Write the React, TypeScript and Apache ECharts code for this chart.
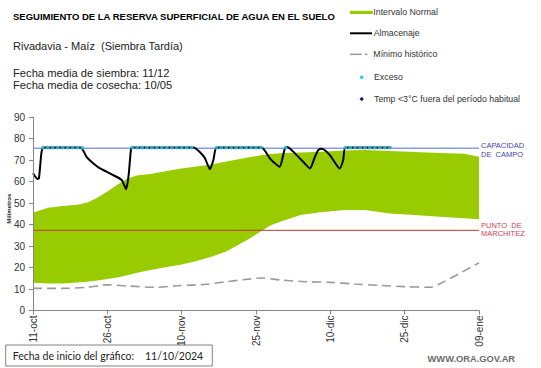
import React, { useEffect, useRef } from "react";
import * as echarts from "echarts";

// X axis: days since 11-oct-2024
const tickLabels = ["11-oct", "26-oct", "10-nov", "25-nov", "10-dic", "25-dic", "09-ene"];

// Normal interval (band)
const bandDays = [0, 3, 6, 9, 11, 13, 15, 17, 19, 21, 24, 27, 30, 33, 36, 39, 42, 44, 46, 48, 50, 54, 58, 63, 67, 72, 77, 82, 87, 90];
const bandUpper = [45.5, 47.8, 48.6, 49.2, 50.2, 52.5, 55.3, 58.5, 61.3, 62.8, 63.6, 64.9, 66.0, 67.0, 67.9, 69.3, 70.6, 71.4, 72.2, 72.8, 73.1, 73.5, 73.8, 74.4, 74.6, 74.2, 73.7, 73.3, 72.9, 71.5];
const bandLower = [12.9, 12.6, 12.6, 13.0, 13.4, 14.0, 14.6, 15.4, 16.4, 17.6, 19.0, 20.2, 21.4, 23.0, 25.0, 27.5, 31.3, 33.8, 36.9, 39.6, 41.4, 44.4, 45.7, 46.7, 46.7, 45.1, 44.4, 43.6, 42.9, 42.4];

// Historical minimum
const minDays = [0, 6, 11, 15, 19, 25, 29, 35, 39, 44, 46, 50, 55, 60, 65, 70, 75, 80, 82, 90];
const minValues = [10.3, 10.3, 10.8, 11.9, 11.4, 10.8, 11.5, 12.2, 13.4, 14.7, 15.1, 14.2, 13.4, 13.1, 12.3, 11.7, 11.1, 10.8, 12.3, 22.2];

// Storage (Almacenaje)
const storageDays = [0, 0.9, 1.2, 1.7, 2.1, 9.6, 10.8, 11.8, 13.2, 15.9, 17.9, 18.8, 19.3, 19.8, 20.1, 32.4, 33.7, 34.7, 35.7, 36.4, 37.1, 46.1, 47.8, 48.8, 49.8, 50.8, 51.3, 52.5, 54.5, 55.9, 56.9, 57.6, 58.3, 59.9, 61.9, 62.6, 63.1, 72.3];
const storageValues = [63.8, 61.2, 61.5, 73.3, 75.8, 75.8, 71.5, 69.2, 66.6, 63.3, 60.7, 56.4, 63.0, 75.5, 75.8, 75.8, 73.6, 70.8, 65.7, 70.0, 75.8, 75.8, 70.8, 68.5, 66.9, 75.2, 76.0, 73.9, 69.2, 66.1, 71.5, 74.7, 75.2, 72.3, 66.1, 70.0, 75.8, 75.8];

// Excess (Exceso)
const excessDays = [2, 3, 4, 5, 6, 7, 8, 9, 10, 20, 21, 22, 23, 24, 25, 26, 27, 28, 29, 30, 31, 32, 37, 38, 39, 40, 41, 42, 43, 44, 45, 46, 51, 63, 64, 65, 66, 67, 68, 69, 70, 71, 72];
const excessValue = 75.8;

// Reference levels
const fieldCapacity = 75.5;
const wiltingPoint = 37.3;

const FONT = '"Liberation Sans", Arial, sans-serif';

export default function App() {
  const ref = useRef<HTMLDivElement>(null);
  useEffect(() => {
    if (!ref.current) return;
    const chart = echarts.init(ref.current, null, { renderer: "svg" });
    const textEl = (text: string, x: number, y: number, size: number, color: string, weight = "normal", extra: any = {}) => ({
      type: "text",
      x,
      y,
      silent: true,
      style: {
        text,
        fill: color,
        fontSize: size,
        fontFamily: FONT,
        fontWeight: weight,
        textVerticalAlign: "middle",
        textAlign: "left",
        ...extra,
      },
    });
    chart.setOption({
      animation: false,
      grid: { left: 33, right: 62, top: 117, bottom: 57.5, containLabel: false },
      xAxis: {
        type: "value",
        min: 0,
        max: 90,
        interval: 15,
        z: 10,
        splitLine: { show: false },
        axisLine: { lineStyle: { color: "#868686", width: 1 } },
        axisTick: { show: true, length: 4, lineStyle: { color: "#868686" } },
        axisLabel: {
          formatter: (v: number) => tickLabels[Math.round(v / 15)] ?? "",
          rotate: 90,
          fontSize: 10,
          fontFamily: FONT,
          color: "#333",
          margin: 5,
          showMinLabel: true,
          showMaxLabel: true,
        },
      },
      yAxis: {
        type: "value",
        min: 0,
        max: 90,
        interval: 10,
        z: 10,
        splitLine: { show: false },
        axisLine: { show: true, lineStyle: { color: "#868686", width: 1 } },
        axisTick: { show: true, length: 4, lineStyle: { color: "#868686" } },
        axisLabel: { fontSize: 10, fontFamily: FONT, color: "#333", margin: 8 },
      },
      series: [
        {
          name: "Intervalo Normal",
          type: "line",
          data: bandDays.map((d, i) => [d, bandUpper[i]]),
          symbol: "none",
          lineStyle: { width: 0, opacity: 0 },
          areaStyle: { color: "#99cc00", opacity: 1 },
          silent: true,
          z: 1,
        },
        {
          name: "base",
          type: "line",
          data: bandDays.map((d, i) => [d, bandLower[i]]),
          symbol: "none",
          lineStyle: { width: 0, opacity: 0 },
          areaStyle: { color: "#ffffff", opacity: 1 },
          silent: true,
          z: 1.5,
        },
        {
          name: "Capacidad",
          type: "line",
          data: [[0, fieldCapacity], [90, fieldCapacity]],
          symbol: "none",
          lineStyle: { color: "#4a6fd0", width: 1 },
          silent: true,
          z: 2,
        },
        {
          name: "Marchitez",
          type: "line",
          data: [[0, wiltingPoint], [90, wiltingPoint]],
          symbol: "none",
          lineStyle: { color: "#c0392b", width: 1 },
          silent: true,
          z: 2,
        },
        {
          name: "Mínimo histórico",
          type: "line",
          data: minDays.map((d, i) => [d, minValues[i]]),
          symbol: "none",
          smooth: 0.3,
          lineStyle: { color: "#9a9a9a", width: 1.6, type: [9, 5] },
          silent: true,
          z: 3,
        },
        {
          name: "Almacenaje",
          type: "line",
          data: storageDays.map((d, i) => [d, storageValues[i]]),
          symbol: "none",
          smooth: 0.2,
          lineStyle: { color: "#000", width: 2 },
          silent: true,
          z: 4,
        },
        {
          name: "Exceso",
          type: "scatter",
          data: excessDays.map((d) => [d, excessValue]),
          symbol: "circle",
          symbolSize: 3.8,
          itemStyle: { color: "#33c8ea" },
          silent: true,
          z: 5,
        },
      ],
      graphic: [
        textEl("SEGUIMIENTO DE LA RESERVA SUPERFICIAL DE AGUA EN EL SUELO", 13, 16.2, 9.5, "#000", "bold"),
        textEl("Rivadavia - Maíz  (Siembra Tardía)", 13, 46, 11, "#222"),
        textEl("Fecha media de siembra: 11/12", 13, 73.4, 11.2, "#222"),
        textEl("Fecha media de cosecha: 10/05", 13, 84.5, 11.2, "#222"),
        // legend
        { type: "rect", shape: { x: 350, y: 10.8, width: 22.7, height: 3.2 }, style: { fill: "#99cc00" }, silent: true },
        { type: "line", shape: { x1: 350, y1: 33.3, x2: 372, y2: 33.3 }, style: { stroke: "#000", lineWidth: 2 }, silent: true },
        { type: "line", shape: { x1: 350, y1: 54.3, x2: 361.7, y2: 54.3 }, style: { stroke: "#9a9a9a", lineWidth: 1.5 }, silent: true },
        { type: "line", shape: { x1: 365, y1: 54.3, x2: 367.5, y2: 54.3 }, style: { stroke: "#9a9a9a", lineWidth: 1.5 }, silent: true },
        { type: "circle", shape: { cx: 361.7, cy: 77.3, r: 1.8 }, style: { fill: "#33c8ea" }, silent: true },
        { type: "polygon", shape: { points: [[361.7, 96.8], [363.9, 99], [361.7, 101.2], [359.5, 99]] }, style: { fill: "#1a1a8c" }, silent: true },
        textEl("Intervalo Normal", 373.3, 12.3, 8.8, "#333"),
        textEl("Almacenaje", 373.7, 33.3, 8.8, "#333"),
        textEl("Mínimo histórico", 373.3, 54.3, 8.8, "#333"),
        textEl("Exceso", 374, 77.3, 8.8, "#333"),
        textEl("Temp <3°C fuera del período habitual", 374, 99, 8.8, "#333"),
        // y axis name
        {
          type: "text",
          x: 9,
          y: 208.7,
          rotation: Math.PI / 2,
          silent: true,
          style: { text: "Milímetros", fill: "#222", fontSize: 6, fontWeight: "bold", fontFamily: FONT, textAlign: "center", textVerticalAlign: "middle" },
        },
        // reference labels
        textEl("CAPACIDAD", 481, 145, 7.5, "#4545b0"),
        textEl("DE  CAMPO", 481, 154, 7.5, "#4545b0"),
        textEl("PUNTO  DE", 481, 225.3, 7.5, "#cc3f55"),
        textEl("MARCHITEZ", 481, 233, 7.5, "#cc3f55"),
        // bottom box
        { type: "rect", shape: { x: 5.7, y: 345, width: 206.6, height: 21 }, style: { fill: "none", stroke: "#8c7f7f", lineWidth: 1 }, silent: true },
        textEl("Fecha de inicio del gráfico:", 12.7, 355.7, 10.5, "#222", "normal", { fontFamily: "Lato, sans-serif" }),
        textEl("11/10/2024", 145, 355.7, 10.5, "#222", "normal", { fontFamily: "Lato, sans-serif" }),
        textEl("WWW.ORA.GOV.AR", 427.6, 359, 9.3, "#6b6b6b", "bold"),
      ],
    });
    return () => chart.dispose();
  }, []);
  return <div ref={ref} style={{ width: 541, height: 368, position: "absolute", left: 0, top: 0 }} />;
}
